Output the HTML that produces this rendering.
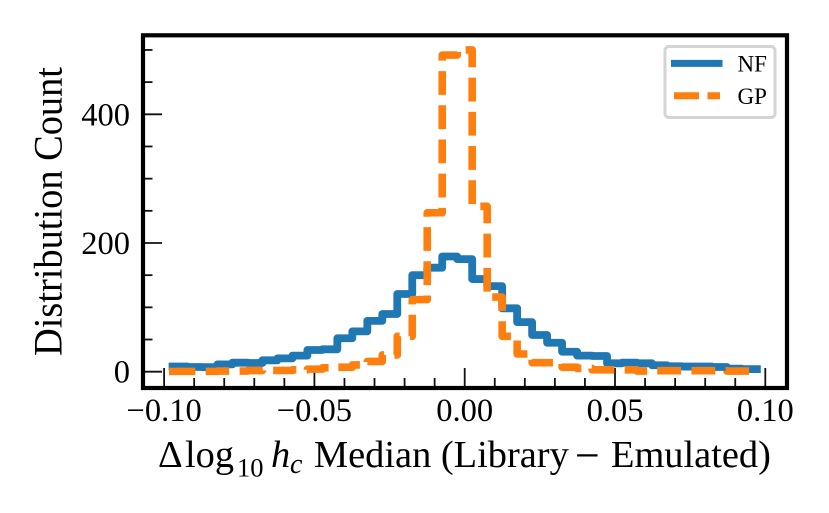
<!DOCTYPE html>
<html>
<head>
<meta charset="utf-8">
<style>
html,body{margin:0;padding:0;background:#fff;}
svg{display:block;font-family:"Liberation Serif",serif;}
</style>
</head>
<body>
<svg id="chart" width="829" height="513" viewBox="0 0 829 513" xmlns="http://www.w3.org/2000/svg">
  <rect x="0" y="0" width="829" height="513" fill="#fff"/>
  <g id="ticks"></g>
  <g id="tick-labels" font-size="32.5" fill="#000"></g>
  <path id="nf-line" fill="none" stroke="#1f77b4" stroke-width="7.8" stroke-linejoin="round" stroke-linecap="square"/>
  <path id="gp-line" fill="none" stroke="#ff7f0e" stroke-width="7.6" stroke-linejoin="round" stroke-dasharray="23.8 10.4" stroke-dashoffset="1"/>
  <rect x="143" y="35.3" width="644" height="352.7" fill="none" stroke="#000" stroke-width="4.2"/>
  <g>
    <rect x="665" y="46.5" width="110" height="71" rx="4" ry="4" fill="#fff" stroke="#d4d4d4" stroke-width="3"/>
    <line x1="671" y1="63.4" x2="722.5" y2="63.4" stroke="#1f77b4" stroke-width="7"/>
    <line x1="674" y1="95.7" x2="720" y2="95.7" stroke="#ff7f0e" stroke-width="7" stroke-dasharray="25 8.5"/>
    <text x="737.5" y="71.5" font-size="23">NF</text>
    <text x="737.5" y="104" font-size="23">GP</text>
  </g>
  <text transform="translate(61.5,356) rotate(-90) scale(0.96,1)" font-size="40" fill="#000">Distribution Count</text>
  <text y="467" font-size="38.4" fill="#000"><tspan x="158">Δ</tspan><tspan x="185">log</tspan><tspan x="237" y="476.5" font-size="26.5">10</tspan><tspan x="271" y="467" font-style="italic">h</tspan><tspan x="290" y="473" font-size="28" font-style="italic">c</tspan><tspan x="314" y="467">Median (Library</tspan><tspan x="575" y="470" font-size="44">−</tspan><tspan x="611" y="467">Emulated)</tspan></text>
</svg>
<script>
// Histogram counts per bin
const nfCounts = [8,7.3,7,11.4,14,13.5,17.7,20.7,25,33.7,34.8,52,62.7,79,89.7,120.7,150,161.6,179,175,144,133,98.5,77,57,45,31,25,24.4,13,14,13,10,8.4,8,8,7.3,4.7,4];
const gpCounts = [0.5,0.5,0.5,1,1,1.7,2,2,3,4,6,7,10.5,16,26,55,112,247,492,500,257,116,55,27.5,14,14,7,5,3,3,3,1,1.5,1.5,1.5,1.5,1.5,1,1];
// Bin range of the histogram (data units)
const binRange = [-0.0972,0.0972];
// Axis ticks
const xMajorTicks = [-0.10,-0.05,0,0.05,0.10];
const xTickLabels = ['−0.10','−0.05','0.00','0.05','0.10'];
const xMinorTicks = [-0.09,-0.08,-0.07,-0.06,-0.04,-0.03,-0.02,-0.01,0.01,0.02,0.03,0.04,0.06,0.07,0.08,0.09];
const yMajorTicks = [0,200,400];
const yTickLabels = ['0','200','400'];
const yMinorTicks = [50,100,150,250,300,350,450,500];

function sx(v){return 464.7+v*3006;}
function sy(v){return 371.7-v*0.6435;}

function stepPath(counts,lead){
  const w=(binRange[1]-binRange[0])/counts.length;
  const xs=sx(binRange[0]), ys=sy(counts[0]);
  let d=lead?'M'+(xs-lead).toFixed(2)+' '+ys.toFixed(2)+'L'+xs.toFixed(2)+' '+ys.toFixed(2):'';
  counts.forEach(function(c,i){
    const x0=sx(binRange[0]+i*w), x1=sx(binRange[0]+(i+1)*w), y=sy(c);
    d+=(i===0?'M':'L')+x0.toFixed(2)+' '+y.toFixed(2)+'L'+x1.toFixed(2)+' '+y.toFixed(2);
  });
  return d;
}
document.getElementById('nf-line').setAttribute('d',stepPath(nfCounts,0));
document.getElementById('gp-line').setAttribute('d',stepPath(gpCounts,3.5));

const NS='http://www.w3.org/2000/svg';
const tickGroup=document.getElementById('ticks');
const labelGroup=document.getElementById('tick-labels');
const axisBottom=388, axisLeft=143;

function addTick(x1,y1,x2,y2,name){
  const t=document.createElementNS(NS,'line');
  t.setAttribute('x1',x1);t.setAttribute('y1',y1);t.setAttribute('x2',x2);t.setAttribute('y2',y2);
  t.setAttribute('stroke','#111');
  t.setAttribute('stroke-width','1.8');
  
  
  tickGroup.appendChild(t);
}
function addLabel(x,y,anchor,str,name){
  const t=document.createElementNS(NS,'text');
  t.setAttribute('x',x);t.setAttribute('y',y);
  t.setAttribute('text-anchor',anchor);
  t.textContent=str;
  
  
  labelGroup.appendChild(t);
}
xMajorTicks.forEach(function(v,i){
  addTick(sx(v),axisBottom,sx(v),axisBottom-20,'x-major-tick');
  addLabel(sx(v),421,'middle',xTickLabels[i],'x-tick-label');
});
xMinorTicks.forEach(function(v){
  addTick(sx(v),axisBottom,sx(v),axisBottom-10,'x-minor-tick');
});
yMajorTicks.forEach(function(v,i){
  addTick(axisLeft,sy(v),axisLeft+19,sy(v),'y-major-tick');
  addLabel(130,sy(v)+11,'end',yTickLabels[i],'y-tick-label');
});
yMinorTicks.forEach(function(v){
  addTick(axisLeft,sy(v),axisLeft+9.5,sy(v),'y-minor-tick');
});
</script>
</body>
</html>
